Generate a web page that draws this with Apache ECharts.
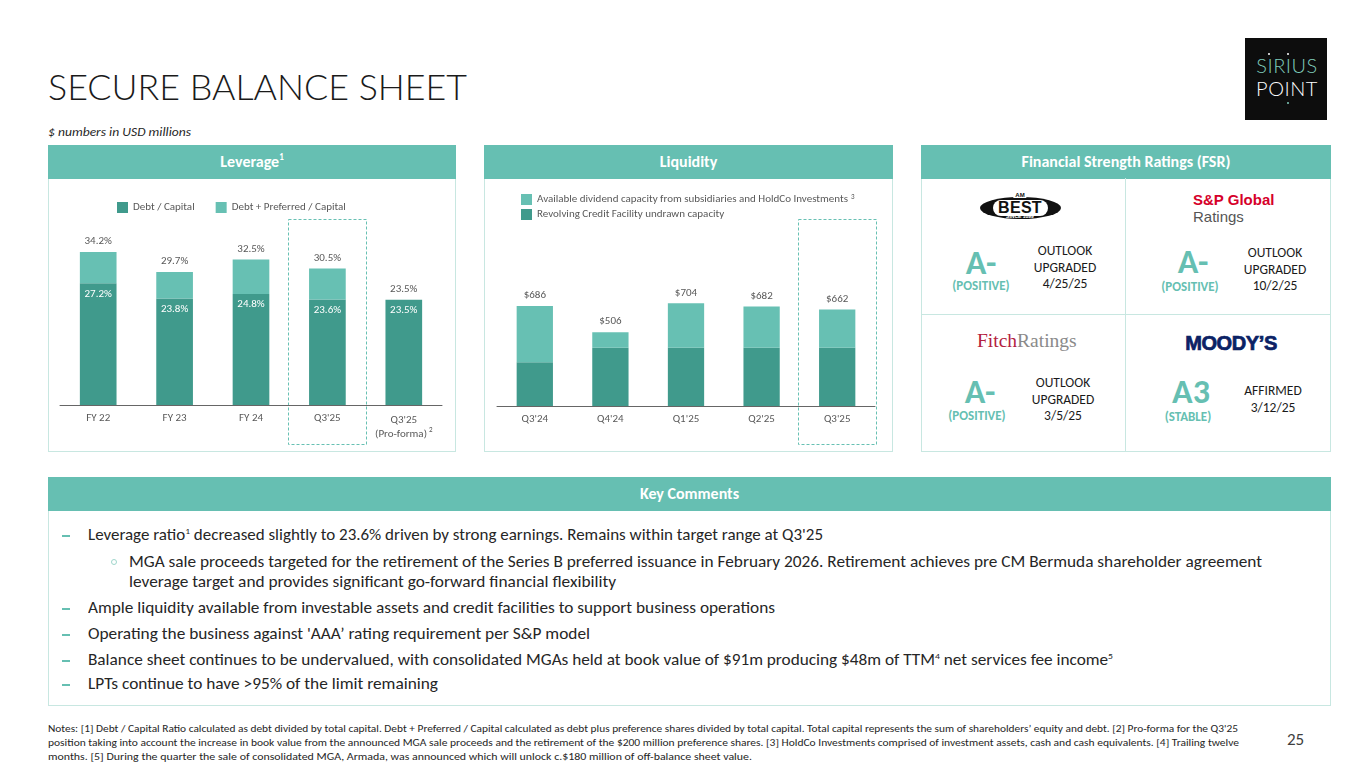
<!DOCTYPE html>
<html><head><meta charset="utf-8">
<script src="https://cdn.jsdelivr.net/npm/echarts@6/dist/echarts.min.js"></script>
<style>
body{margin:0;width:1365px;height:767px;position:relative;background:#fff;overflow:hidden;font-family:Carlito,Lato,"Open Sans",sans-serif;color:#1f1f1f}
.a{position:absolute;white-space:nowrap}
.f{transform-origin:left center}
.c{transform:translateX(-50%);text-align:center}
.panel{position:absolute;border:1px solid #c8e7e1;box-sizing:border-box}
.hdr{position:absolute;background:#66bfb2;color:#fff;font-weight:bold;font-size:16px;text-align:center;line-height:33px;left:-1px;right:-1px;top:-1px;height:34px}
.hdr sup{font-size:9px;line-height:0;vertical-align:7px}
.rt{font-weight:bold;color:#66bfb2;font-size:34px;line-height:34px}
.rs{font-weight:bold;color:#66bfb2;font-size:13px;line-height:16px}
.ro{font-size:13.5px;line-height:16.5px;color:#1a1a1a}
.kc{font-size:16px;line-height:20px;color:#262626}
.kc sup{font-size:9px;line-height:0;vertical-align:6px}
.dash{position:absolute;width:8px;height:2px;background:#66bfb2}
.ring{position:absolute;width:4px;height:4px;border:1px solid #9fd6cc;border-radius:50%}
.nt{font-size:10.5px;line-height:14px;color:#262626}
</style></head>
<body>
<!-- title -->
<div class="a f" data-w="419" style="left:48px;top:66px;font-family:Lato,sans-serif;font-weight:300;font-size:35px;line-height:40px;color:#1a1a1a">SECURE BALANCE SHEET</div>
<div class="a f" data-w="143" style="left:48px;top:124px;font-style:italic;font-size:12.5px;line-height:16px;color:#262626">$ numbers in USD millions</div>

<!-- logo -->
<div class="a" style="left:1245px;top:38px;width:82px;height:82px;background:#0d0d0d"></div>
<div class="a c" style="left:1287px;top:55px;font-family:Lato,sans-serif;font-weight:300;font-size:20px;line-height:20px;color:#7fcbbb;letter-spacing:0.5px">SIRIUS</div>
<div class="a c" style="left:1287px;top:78px;font-family:Lato,sans-serif;font-weight:300;font-size:20px;line-height:20px;color:#fff;letter-spacing:0.5px">POINT</div>
<div class="a" style="left:1268px;top:53px;width:2px;height:2px;background:#fff;border-radius:1px"></div>
<div class="a" style="left:1287px;top:53px;width:2px;height:2px;background:#fff;border-radius:1px"></div>
<div class="a" style="left:1287px;top:102px;width:2px;height:2px;background:#7fcbbb;border-radius:1px"></div>

<!-- panels -->
<div class="panel" style="left:48px;top:145px;width:408px;height:307px"><div class="hdr">Leverage<sup>1</sup></div></div>
<div class="panel" style="left:484px;top:145px;width:409px;height:307px"><div class="hdr">Liquidity</div></div>
<div class="panel" style="left:921px;top:145px;width:410px;height:307px"><div class="hdr">Financial Strength Ratings (FSR)</div></div>
<div class="a" style="left:1125px;top:178px;width:1px;height:274px;background:#c8e7e1"></div>
<div class="a" style="left:921px;top:314px;width:410px;height:1px;background:#c8e7e1"></div>

<div id="lev" class="a" style="left:48px;top:178px;width:408px;height:274px"></div>
<div id="liq" class="a" style="left:484px;top:178px;width:409px;height:274px"></div>

<!-- AM Best logo -->
<div class="a" style="left:980px;top:197px;width:81px;height:22px;background:#111;border-radius:50%"></div>
<div class="a" style="left:993px;top:200px;width:55px;height:16px;background:#fff;border-radius:8px"></div>
<div class="a c" style="left:1020px;top:199px;font-family:'Liberation Sans',Arial,sans-serif;font-weight:bold;font-size:16px;line-height:17px;color:#111;letter-spacing:0.3px">BEST</div>
<div class="a c" style="left:1020px;top:192px;font-family:'Liberation Sans',Arial,sans-serif;font-weight:bold;font-size:6px;line-height:6px;color:#111;background:#fff;padding:0 2px">AM</div>
<div class="a c" style="left:1020px;top:214px;font-family:'Liberation Sans',Arial,sans-serif;font-weight:bold;font-size:5px;line-height:5px;color:#fff">SINCE 1899</div>

<!-- S&P -->
<div class="a" style="left:1193px;top:191px;font-family:'Liberation Sans',Arial,sans-serif;font-weight:bold;font-size:15px;line-height:18px;color:#d6002a">S&amp;P Global</div>
<div class="a" style="left:1193px;top:208px;font-family:'Liberation Sans',Arial,sans-serif;font-size:15px;line-height:18px;color:#555">Ratings</div>

<!-- Fitch -->
<div class="a" style="left:977px;top:330px;font-family:'Liberation Serif','DejaVu Serif',serif;font-size:19.5px;line-height:22px;color:#8a8a8a"><span style="color:#b3213f">Fitch</span>Ratings</div>
<!-- Moody's -->
<div class="a c" style="left:1231px;top:332px;font-family:'Liberation Sans',Arial,sans-serif;font-weight:900;font-size:20px;line-height:22px;color:#0b2265;letter-spacing:-0.4px;-webkit-text-stroke:0.7px #0b2265">MOODY’S</div>

<!-- ratings -->
<div class="a c rt" style="left:981px;top:246px">A-</div>
<div class="a c rs" style="left:981px;top:278px">(POSITIVE)</div>
<div class="a c ro" style="left:1065px;top:243px">OUTLOOK<br>UPGRADED<br>4/25/25</div>

<div class="a c rt" style="left:1193px;top:245px">A-</div>
<div class="a c rs" style="left:1190px;top:279px">(POSITIVE)</div>
<div class="a c ro" style="left:1275px;top:245px">OUTLOOK<br>UPGRADED<br>10/2/25</div>

<div class="a c rt" style="left:980px;top:375px">A-</div>
<div class="a c rs" style="left:977px;top:408px">(POSITIVE)</div>
<div class="a c ro" style="left:1063px;top:375px">OUTLOOK<br>UPGRADED<br>3/5/25</div>

<div class="a c rt" style="left:1191px;top:375px">A3</div>
<div class="a c rs" style="left:1188px;top:409px">(STABLE)</div>
<div class="a c ro" style="left:1273px;top:383px">AFFIRMED<br>3/12/25</div>

<!-- key comments -->
<div class="panel" style="left:48px;top:477px;width:1283px;height:229px"><div class="hdr">Key Comments</div></div>
<div class="dash" style="left:62px;top:535px"></div>
<div class="a kc f" data-w="735" style="left:88px;top:525px">Leverage ratio<sup>1</sup> decreased slightly to 23.6% driven by strong earnings. Remains within target range at Q3'25</div>
<div class="ring" style="left:111px;top:559px"></div>
<div class="a kc f" data-w="1133" style="left:129px;top:552px">MGA sale proceeds targeted for the retirement of the Series B preferred issuance in February 2026. Retirement achieves pre CM Bermuda shareholder agreement</div>
<div class="a kc f" data-w="487" style="left:129px;top:572px">leverage target and provides significant go-forward financial flexibility</div>
<div class="dash" style="left:62px;top:608px"></div>
<div class="a kc f" data-w="687" style="left:88px;top:598px">Ample liquidity available from investable assets and credit facilities to support business operations</div>
<div class="dash" style="left:62px;top:634px"></div>
<div class="a kc f" data-w="502" style="left:88px;top:624px">Operating the business against 'AAA’ rating requirement per S&amp;P model</div>
<div class="dash" style="left:62px;top:660px"></div>
<div class="a kc f" data-w="1025" style="left:88px;top:650px">Balance sheet continues to be undervalued, with consolidated MGAs held at book value of $91m producing $48m of TTM<sup>4</sup> net services fee income<sup>5</sup></div>
<div class="dash" style="left:62px;top:684px"></div>
<div class="a kc f" data-w="350" style="left:88px;top:674px">LPTs continue to have &gt;95% of the limit remaining</div>

<!-- notes -->
<div class="a nt f" data-w="1190" style="left:48px;top:722px">Notes: [1] Debt / Capital Ratio calculated as debt divided by total capital. Debt + Preferred / Capital calculated as debt plus preference shares divided by total capital. Total capital represents the sum of shareholders’ equity and debt. [2] Pro-forma for the Q3'25</div>
<div class="a nt f" data-w="1191" style="left:48px;top:736px">position taking into account the increase in book value from the announced MGA sale proceeds and the retirement of the $200 million preference shares. [3] HoldCo Investments comprised of investment assets, cash and cash equivalents. [4] Trailing twelve</div>
<div class="a nt f" data-w="704" style="left:48px;top:750px">months. [5] During the quarter the sale of consolidated MGA, Armada, was announced which will unlock c.$180 million of off-balance sheet value.</div>
<div class="a" style="left:1287px;top:730px;font-size:17px;line-height:20px;color:#404040">25</div>

<script>
// ---- data ----
const levCategories = ['FY 22', 'FY 23', 'FY 24', "Q3'25", "Q3'25 (Pro-forma)"];
const levDebtCapital = [27.2, 23.8, 24.8, 23.6, 23.5];
const levDebtPrefCapital = [34.2, 29.7, 32.5, 30.5, 23.5];
const levLegend = ['Debt / Capital', 'Debt + Preferred / Capital'];

const liqCategories = ["Q3'24", "Q4'24", "Q1'25", "Q2'25", "Q3'25"];
const liqRevolver = [300, 400, 400, 400, 400];
const liqDividend = [386, 106, 304, 282, 262];
const liqLegend = ['Available dividend capacity from subsidiaries and HoldCo Investments', 'Revolving Credit Facility undrawn capacity'];

// ---- fit text widths ----
document.querySelectorAll('[data-w]').forEach(el => {
  const w = el.getBoundingClientRect().width;
  el.style.transform = 'scaleX(' + (parseFloat(el.dataset.w) / w) + ')';
});

const FONT = 'Carlito, Lato, "Open Sans", sans-serif';
const DARK = '#409a8c', LIGHT = '#67c0b3', GREY = '#595959';

function addBox(chart, idx, y0, y1) {
  const c = chart.convertToPixel({ xAxisIndex: 0 }, idx);
  const p = chart.convertToPixel({ xAxisIndex: 0 }, idx - 1);
  const bw = c - p + 2;
  chart.setOption({ graphic: [{ type: 'rect', shape: { x: Math.round(c - bw / 2) + 0.5, y: y0 + 0.5, width: Math.round(bw), height: y1 - y0 },
    style: { fill: 'none', stroke: LIGHT, lineWidth: 1, lineDash: [3, 2] } }] });
}

const lev = echarts.init(document.getElementById('lev'));
lev.setOption({
  animation: false,
  textStyle: { fontFamily: FONT },
  legend: { data: levLegend, left: 64, top: 19, icon: 'rect', itemWidth: 11, itemHeight: 11, itemGap: 21,
    textStyle: { color: GREY, fontSize: 11, fontFamily: FONT } },
  grid: { left: 12, right: 14, top: 48, bottom: 47 },
  xAxis: { type: 'category', data: levCategories,
    axisLine: { lineStyle: { color: '#666', width: 1 } }, axisTick: { show: false },
    axisLabel: { color: GREY, fontSize: 11, margin: 8, interval: 0, fontFamily: FONT,
      formatter: (v, i) => i === 4 ? "{a|Q3'25}\n{a|(Pro-forma)}{s|2}" : v,
      rich: { a: { fontSize: 11, color: GREY, lineHeight: 14, fontFamily: FONT },
              s: { fontSize: 7, color: GREY, verticalAlign: 'top', lineHeight: 14, padding: [0, 0, 0, 2], fontFamily: FONT } } } },
  yAxis: { type: 'value', min: 0, max: 40, show: false },
  series: [
    { name: levLegend[0], type: 'bar', stack: 'lev', data: levDebtCapital, barWidth: '48%',
      itemStyle: { color: DARK },
      label: { show: true, position: 'insideTop', distance: 5, color: '#fff', fontSize: 11, fontFamily: FONT,
        formatter: p => p.value.toFixed(1) + '%' } },
    { name: levLegend[1], type: 'bar', stack: 'lev', barWidth: '48%',
      data: levDebtPrefCapital.map((v, i) => +(v - levDebtCapital[i]).toFixed(1)),
      itemStyle: { color: LIGHT },
      label: { show: true, position: 'top', distance: 5, color: GREY, fontSize: 11, fontFamily: FONT,
        formatter: p => levDebtPrefCapital[p.dataIndex].toFixed(1) + '%' } }
  ]
});
addBox(lev, 3, 41, 266);

const liq = echarts.init(document.getElementById('liq'));
liq.setOption({
  animation: false,
  textStyle: { fontFamily: FONT },
  legend: { data: liqLegend, orient: 'vertical', left: 32, top: 11, icon: 'rect', itemWidth: 11, itemHeight: 11, itemGap: 4,
    formatter: n => n === liqLegend[0] ? '{t|' + n + '}{s|3}' : '{t|' + n + '}',
    textStyle: { color: GREY, fontSize: 11, fontFamily: FONT,
      rich: { t: { color: GREY, fontSize: 11, fontFamily: FONT },
              s: { color: GREY, fontSize: 7, verticalAlign: 'top', padding: [0, 0, 0, 3], fontFamily: FONT } } } },
  grid: { left: 13, right: 18, top: 53, bottom: 46 },
  xAxis: { type: 'category', data: liqCategories,
    axisLine: { lineStyle: { color: '#666', width: 1 } }, axisTick: { show: false },
    axisLabel: { color: GREY, fontSize: 11, margin: 8, interval: 0, fontFamily: FONT } },
  yAxis: { type: 'value', min: 0, max: 1200, show: false },
  series: [
    { name: liqLegend[1], type: 'bar', stack: 'liq', data: liqRevolver, barWidth: '48%', itemStyle: { color: DARK } },
    { name: liqLegend[0], type: 'bar', stack: 'liq', data: liqDividend, barWidth: '48%', itemStyle: { color: LIGHT },
      label: { show: true, position: 'top', distance: 5, color: GREY, fontSize: 11, fontFamily: FONT,
        formatter: p => '$' + (liqRevolver[p.dataIndex] + liqDividend[p.dataIndex]) } }
  ]
});
addBox(liq, 4, 41, 266);
</script>
</body></html>
